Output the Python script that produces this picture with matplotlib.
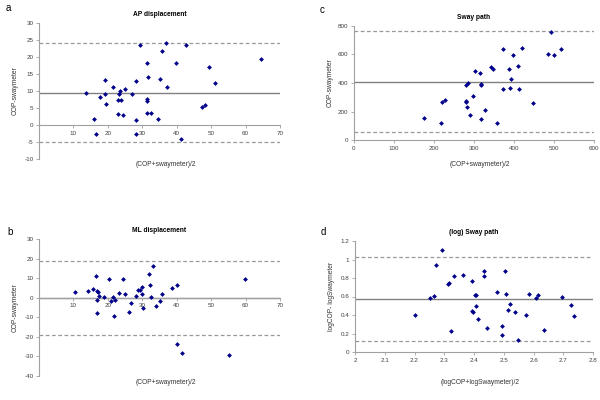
import matplotlib.pyplot as plt

plt.rcParams['font.family'] = ['Liberation Sans', 'DejaVu Sans']

# a: AP displacement
ap_mean_x = [13.6, 16.1, 16.6, 17.8, 19.3, 19.2, 19.5, 21.4, 22.9, 22.9, 23.3, 23.6, 23.9,
             24.3, 25.1, 26.9, 28.1, 28.1, 28.3, 29.4, 31.4, 31.4, 31.5, 31.5, 31.7, 32.5,
             34.6, 35.0, 35.7, 36.9, 37.3, 39.9, 41.2, 42.7, 47.3, 48.2, 49.3, 51.0, 64.6]
ap_diff_y = [9.5, 1.7, -2.5, 8.1, 13.1, 9.0, 6.2, 11.2, 7.3, 3.2, 9.0, 9.9, 7.4,
             3.0, 10.6, 9.2, 1.5, -2.5, 13.0, 23.4, 18.3, 7.2, 7.6, 3.4, 14.0, 3.4,
             1.7, 13.4, 21.9, 24.0, 11.1, 18.1, -4.0, 23.6, 5.3, 5.9, 17.0, 12.4, 19.5]
ap_lines = [9.55, 24.0, -4.9]

# b: ML displacement
ml_mean_x = [10.5, 14.1, 15.8, 16.5, 16.8, 17.1, 16.8, 16.8, 17.5, 19.0, 20.2, 21.0, 21.4,
             21.8, 22.2, 23.1, 24.3, 25.0, 26.1, 26.6, 28.3, 28.7, 29.2, 29.8, 29.9, 30.1,
             32.0, 32.3, 32.6, 33.2, 33.9, 35.2, 35.8, 38.5, 40.2, 40.0, 41.6, 55.2, 59.7]
ml_diff_y = [3.1, 3.6, 4.6, 11.1, 3.6, 2.9, -1.2, -8.0, 0.7, 0.4, 9.8, -1.7, 0.2,
             -9.2, -1.4, 2.6, 9.8, 2.1, -7.5, -2.5, 0.9, 3.8, 3.8, 5.7, 1.9, -5.5,
             12.3, 6.7, 0.5, 16.4, -4.2, -1.5, 1.7, 5.0, 6.7, -23.6, -28.4, -29.4, 9.4]
ml_lines = [0.05, 19.0, -18.9]

# c: Sway path
sp_mean_x = [176, 217, 220, 228, 279, 280, 282, 280, 286, 291, 297, 303, 315, 317, 318, 318,
             327, 342, 348, 357, 372, 373, 387, 389, 392, 398, 410, 413, 419, 448, 486, 492,
             501, 517]
sp_diff_y = [157, 122, 264, 278, 264, 271, 229, 388, 402, 173, 311, 487, 470, 388, 393, 145,
             213, 515, 496, 122, 358, 641, 496, 363, 426, 594, 517, 358, 645, 257, 606, 756,
             594, 641]
sp_lines = [410, 762, 56]

# d: (log) Sway path
lg_mean_x = [2.203, 2.252, 2.264, 2.271, 2.293, 2.311, 2.316, 2.323, 2.331, 2.363, 2.394,
             2.393, 2.395, 2.402, 2.405, 2.407, 2.414, 2.433, 2.434, 2.445, 2.476, 2.493,
             2.493, 2.505, 2.508, 2.520, 2.515, 2.538, 2.548, 2.573, 2.586, 2.609, 2.614,
             2.636, 2.694, 2.727, 2.735]
lg_diff_y = [0.395, 0.589, 0.604, 0.941, 1.103, 0.733, 0.747, 0.226, 0.823, 0.834, 0.765,
             0.442, 0.435, 0.614, 0.618, 0.492, 0.359, 0.826, 0.880, 0.255, 0.654, 0.277,
             0.187, 0.877, 0.632, 0.517, 0.449, 0.428, 0.133, 0.395, 0.625, 0.586, 0.618,
             0.241, 0.596, 0.503, 0.388]
lg_lines = [0.57, 1.024, 0.115]

fig = plt.figure(figsize=(6, 4), dpi=100)

panels = [
    dict(rect=[0.065, 0.6025, 0.4017, 0.34], x=ap_mean_x, y=ap_diff_y, lines=ap_lines,
         title="AP displacement", letter="a", letter_pos=(0.01, 0.98), xlab_y=0.5875,
         xlim=(0, 70), ylim=(-10, 30),
         xticks=[10, 20, 30, 40, 50, 60, 70], yticks=list(range(-10, 31, 5)),
         xlabel="(COP+swaymeter)/2", ylabel="COP-swaymeter"),
    dict(rect=[0.065, 0.06, 0.4017, 0.3425], x=ml_mean_x, y=ml_diff_y, lines=ml_lines,
         title="ML displacement", letter="b", letter_pos=(0.012, 0.42), xlab_y=0.0425,
         xlim=(0, 70), ylim=(-40, 30),
         xticks=[10, 20, 30, 40, 50, 60, 70], yticks=list(range(-40, 31, 10)),
         xlabel="(COP+swaymeter)/2", ylabel="COP-swaymeter"),
    dict(rect=[0.59, 0.65, 0.40, 0.285], x=sp_mean_x, y=sp_diff_y, lines=sp_lines,
         title="Sway path", letter="c", letter_pos=(0.532, 0.975), xlab_y=0.5875,
         xlim=(0, 600), ylim=(0, 800),
         xticks=list(range(0, 601, 100)), yticks=list(range(0, 801, 200)),
         xlabel="(COP+swaymeter)/2", ylabel="COP-swaymeter"),
    dict(rect=[0.5917, 0.12, 0.3967, 0.2775], x=lg_mean_x, y=lg_diff_y, lines=lg_lines,
         title="(log) Sway path", letter="d", letter_pos=(0.535, 0.42), xlab_y=0.0425,
         xlim=(2, 2.8), ylim=(0, 1.2),
         xticks=[2, 2.1, 2.2, 2.3, 2.4, 2.5, 2.6, 2.7, 2.8],
         yticks=[0, 0.2, 0.4, 0.6, 0.8, 1, 1.2],
         xlabel="(logCOP+logSwaymeter)/2", ylabel="logCOP- logSwaymeter"),
]

axis_col = "#a0a0a0"
for p in panels:
    ax = fig.add_axes(p["rect"])
    mean, upper, lower = p["lines"]
    ax.axhline(mean, color="#808080", lw=1.0, zorder=1)
    ax.axhline(upper, color="#999999", lw=0.9, ls=(0, (3, 2)), zorder=1)
    ax.axhline(lower, color="#999999", lw=0.9, ls=(0, (3, 2)), zorder=1)
    ax.scatter(p["x"], p["y"], marker="D", s=6, color="#00008b", zorder=3, linewidths=0)
    ax.set_xlim(*p["xlim"])
    ax.set_ylim(*p["ylim"])
    ax.set_xticks(p["xticks"])
    ax.set_yticks(p["yticks"])
    ax.set_xticklabels([f"{v:g}" for v in p["xticks"]])
    ax.set_yticklabels([f"{v:g}" for v in p["yticks"]])
    ax.spines["top"].set_visible(False)
    ax.spines["right"].set_visible(False)
    ax.spines["bottom"].set_position(("data", max(0, p["ylim"][0])))
    for s in ("left", "bottom"):
        ax.spines[s].set_color(axis_col)
        ax.spines[s].set_linewidth(0.8)
    ax.tick_params(axis="both", labelsize=4.5, colors="#404040", length=2, width=0.6,
                   pad=2, color=axis_col)
    ax.set_facecolor("none")
    ax.set_title(p["title"], fontsize=4.8, fontweight="bold", pad=5)
    x0, y0, w, h = p["rect"]
    fig.text(x0 + w / 2 + 0.01, p["xlab_y"], p["xlabel"], fontsize=4.8, color="#333333",
             ha="center", va="center")
    fig.text(x0 - 0.04, y0 + h / 2, p["ylabel"], fontsize=4.8, color="#333333",
             ha="center", va="center", rotation=90)
    fig.text(p["letter_pos"][0], p["letter_pos"][1], p["letter"], fontsize=7,
             ha="left", va="center")

fig.savefig("out.png", dpi=100, facecolor="white")
